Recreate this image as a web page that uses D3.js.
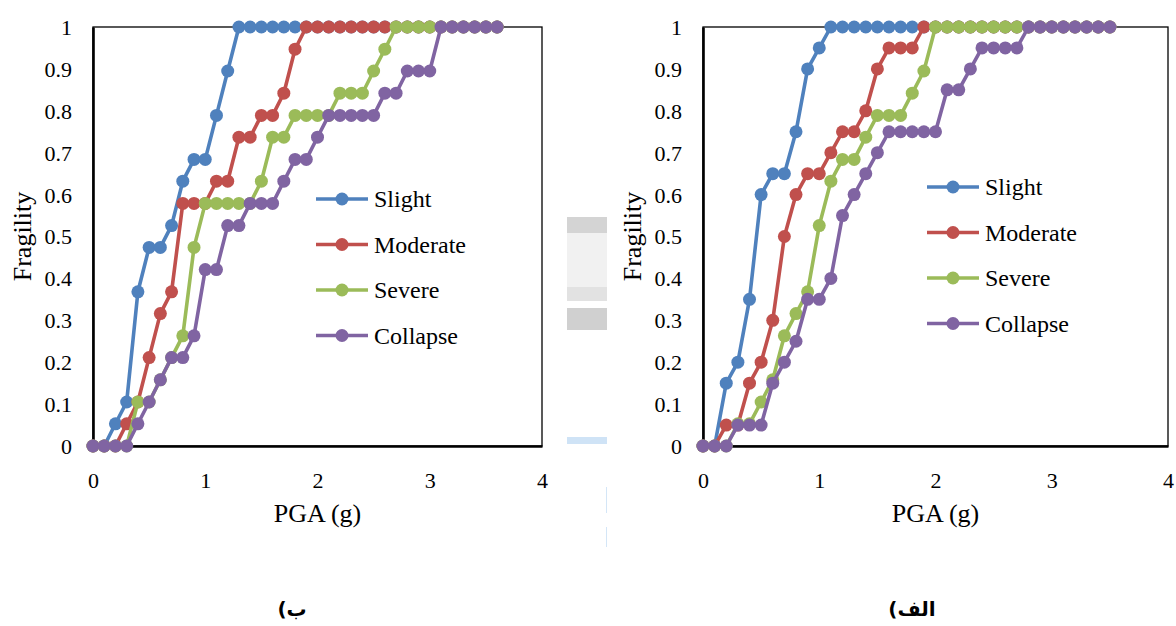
<!DOCTYPE html>
<html>
<head>
<meta charset="utf-8">
<script src="https://cdn.jsdelivr.net/npm/d3@7"></script>
<style>
  html, body { margin: 0; padding: 0; background: #fff; }
  svg { display: block; }
</style>
</head>
<body>
<svg id="chart" width="1176" height="626"></svg>
<script>
// ---------------- DATA ----------------
const seriesNames = ["Slight", "Moderate", "Severe", "Collapse"];
const xTicks = [0, 1, 2, 3, 4];
const yTicks = [0, 0.1, 0.2, 0.3, 0.4, 0.5, 0.6, 0.7, 0.8, 0.9, 1];
const yTickLabels = ["0", "0.1", "0.2", "0.3", "0.4", "0.5", "0.6", "0.7", "0.8", "0.9", "1"];

// Panel (ب) - left
const pgaB = [0, 0.1, 0.2, 0.3, 0.4, 0.5, 0.6, 0.7, 0.8, 0.9, 1.0, 1.1, 1.2, 1.3, 1.4, 1.5, 1.6, 1.7, 1.8, 1.9,
              2.0, 2.1, 2.2, 2.3, 2.4, 2.5, 2.6, 2.7, 2.8, 2.9, 3.0, 3.1, 3.2, 3.3, 3.4, 3.5, 3.6];
const slightB = [0, 0, 0.053, 0.105, 0.368, 0.474, 0.474, 0.526, 0.632, 0.684, 0.684, 0.789, 0.895, 1, 1, 1, 1, 1, 1, 1,
                 1, 1, 1, 1, 1, 1, 1, 1, 1, 1, 1, 1, 1, 1, 1, 1, 1];
const moderateB = [0, 0, 0, 0.053, 0.105, 0.211, 0.316, 0.368, 0.579, 0.579, 0.579, 0.632, 0.632, 0.737, 0.737, 0.789, 0.789, 0.842, 0.947, 1,
                   1, 1, 1, 1, 1, 1, 1, 1, 1, 1, 1, 1, 1, 1, 1, 1, 1];
const severeB = [0, 0, 0, 0, 0.105, 0.105, 0.158, 0.211, 0.263, 0.474, 0.579, 0.579, 0.579, 0.579, 0.579, 0.632, 0.737, 0.737, 0.789, 0.789,
                 0.789, 0.789, 0.842, 0.842, 0.842, 0.895, 0.947, 1, 1, 1, 1, 1, 1, 1, 1, 1, 1];
const collapseB = [0, 0, 0, 0, 0.053, 0.105, 0.158, 0.211, 0.211, 0.263, 0.421, 0.421, 0.526, 0.526, 0.579, 0.579, 0.579, 0.632, 0.684, 0.684,
                   0.737, 0.789, 0.789, 0.789, 0.789, 0.789, 0.842, 0.842, 0.895, 0.895, 0.895, 1, 1, 1, 1, 1, 1];

// Panel (الف) - right
const pgaA = [0, 0.1, 0.2, 0.3, 0.4, 0.5, 0.6, 0.7, 0.8, 0.9, 1.0, 1.1, 1.2, 1.3, 1.4, 1.5, 1.6, 1.7, 1.8, 1.9,
              2.0, 2.1, 2.2, 2.3, 2.4, 2.5, 2.6, 2.7, 2.8, 2.9, 3.0, 3.1, 3.2, 3.3, 3.4, 3.5];
const slightA = [0, 0, 0.15, 0.2, 0.35, 0.6, 0.65, 0.65, 0.75, 0.9, 0.95, 1, 1, 1, 1, 1, 1, 1, 1, 1,
                 1, 1, 1, 1, 1, 1, 1, 1, 1, 1, 1, 1, 1, 1, 1, 1];
const moderateA = [0, 0, 0.05, 0.05, 0.15, 0.2, 0.3, 0.5, 0.6, 0.65, 0.65, 0.7, 0.75, 0.75, 0.8, 0.9, 0.95, 0.95, 0.95, 1,
                   1, 1, 1, 1, 1, 1, 1, 1, 1, 1, 1, 1, 1, 1, 1, 1];
const severeA = [0, 0, 0, 0.053, 0.053, 0.105, 0.158, 0.263, 0.316, 0.368, 0.526, 0.632, 0.684, 0.684, 0.737, 0.789, 0.789, 0.789, 0.842, 0.895,
                 1, 1, 1, 1, 1, 1, 1, 1, 1, 1, 1, 1, 1, 1, 1, 1];
const collapseA = [0, 0, 0, 0.05, 0.05, 0.05, 0.15, 0.2, 0.25, 0.35, 0.35, 0.4, 0.55, 0.6, 0.65, 0.7, 0.75, 0.75, 0.75, 0.75,
                   0.75, 0.85, 0.85, 0.9, 0.95, 0.95, 0.95, 0.95, 1, 1, 1, 1, 1, 1, 1, 1];

const xTitle = "PGA (g)";
const yTitle = "Fragility";
const panelLabels = ["ب)", "الف)"];

// ---------------- STYLE ----------------
const colors = ["#4F81BD", "#C0504D", "#9BBB59", "#8064A2"];
const serif = "'Liberation Serif', 'Times New Roman', 'DejaVu Serif', serif";

const svg = d3.select("#chart");

function drawPanel(opt) {
  const x = d3.scaleLinear().domain([0, 4]).range([opt.x0, opt.x1]);
  const y = d3.scaleLinear().domain([0, 1]).range([446, 27]);
  const g = svg.append("g");

  // frame: top/right thin
  g.append("rect")
    .attr("x", x(0)).attr("y", y(1))
    .attr("width", x(4) - x(0)).attr("height", y(0) - y(1))
    .attr("fill", "none").attr("stroke", "#000").attr("stroke-width", 1.3);

  // axes (thick lines, no ticks)
  const xAxis = d3.axisBottom(x).tickValues(xTicks).tickSize(0).tickPadding(0).tickFormat(d3.format("d"));
  const xg = g.append("g").attr("transform", `translate(0,${y(0)})`).call(xAxis);
  xg.select(".domain").attr("stroke", "#000").attr("stroke-width", 2.6);
  xg.selectAll(".tick text")
    .attr("font-family", serif).attr("font-size", 22).attr("fill", "#000")
    .attr("dy", null).attr("y", 42);

  const yAxis = d3.axisLeft(y).tickValues(yTicks).tickSize(0).tickPadding(0)
    .tickFormat((d, i) => yTickLabels[i]);
  const yg = g.append("g").attr("transform", `translate(${x(0)},0)`).call(yAxis);
  yg.select(".domain").attr("stroke", "#000").attr("stroke-width", 2.6);
  yg.selectAll(".tick text")
    .attr("font-family", serif).attr("font-size", 22).attr("fill", "#000")
    .attr("x", -21).attr("dy", "0.34em");

  // titles
  g.append("text")
    .attr("x", (x(0) + x(4)) / 2).attr("y", 522)
    .attr("text-anchor", "middle").attr("font-family", serif).attr("font-size", 26)
    .text(xTitle);
  g.append("text")
    .attr("transform", `translate(${opt.yTitleX},${(y(0) + y(1)) / 2}) rotate(-90)`)
    .attr("text-anchor", "middle").attr("font-family", serif).attr("font-size", 26)
    .text(yTitle);

  // series
  const line = d3.line().x((d, i) => x(opt.pga[i])).y(d => y(d));
  opt.series.forEach((vals, si) => {
    g.append("path").datum(vals)
      .attr("d", line).attr("fill", "none")
      .attr("stroke", colors[si]).attr("stroke-width", 3.6)
      .attr("stroke-linejoin", "round");
    g.selectAll(null).data(vals).enter().append("circle")
      .attr("cx", (d, i) => x(opt.pga[i])).attr("cy", d => y(d))
      .attr("r", 6.5).attr("fill", colors[si]);
  });

  // legend
  const lg = g.append("g");
  seriesNames.forEach((name, i) => {
    const ly = opt.legY + i * 45.5;
    lg.append("line")
      .attr("x1", opt.legX).attr("x2", opt.legX + 52)
      .attr("y1", ly).attr("y2", ly)
      .attr("stroke", colors[i]).attr("stroke-width", 3.6);
    lg.append("circle").attr("cx", opt.legX + 26).attr("cy", ly).attr("r", 6.5).attr("fill", colors[i]);
    lg.append("text")
      .attr("x", opt.legX + 58).attr("y", ly).attr("dy", "0.34em")
      .attr("font-family", serif).attr("font-size", 24).text(name);
  });

  // panel label (RTL)
  g.append("text")
    .attr("x", opt.labelX).attr("y", 616)
    .attr("text-anchor", "middle")
    .attr("direction", "rtl")
    .style("direction", "rtl").style("unicode-bidi", "embed")
    .attr("font-family", "'DejaVu Sans', sans-serif").attr("font-weight", "bold").attr("font-size", 20)
    .text(opt.label);
}

drawPanel({
  x0: 93, x1: 542, pga: pgaB,
  series: [slightB, moderateB, severeB, collapseB],
  legX: 316, legY: 199, yTitleX: 31, labelX: 292, label: panelLabels[0]
});
drawPanel({
  x0: 703, x1: 1168, pga: pgaA,
  series: [slightA, moderateA, severeA, collapseA],
  legX: 927, legY: 187, yTitleX: 641, labelX: 912, label: panelLabels[1]
});

// faint scan remnants between the panels
const junk = svg.append("g");
junk.append("rect").attr("x", 567).attr("y", 217).attr("width", 40).attr("height", 16).attr("fill", "#d4d4d4");
junk.append("rect").attr("x", 567).attr("y", 233).attr("width", 40).attr("height", 54).attr("fill", "#f1f1f1");
junk.append("rect").attr("x", 567).attr("y", 287).attr("width", 40).attr("height", 14).attr("fill", "#e2e2e2");
junk.append("rect").attr("x", 567).attr("y", 308).attr("width", 40).attr("height", 22).attr("fill", "#d0d0d0");
junk.append("rect").attr("x", 567).attr("y", 437).attr("width", 40).attr("height", 7).attr("fill", "#cfe3f6");
junk.append("line").attr("x1", 606.5).attr("x2", 606.5).attr("y1", 487).attr("y2", 513).attr("stroke", "#d4e6f7").attr("stroke-width", 1);
junk.append("line").attr("x1", 606.5).attr("x2", 606.5).attr("y1", 527).attr("y2", 547).attr("stroke", "#d4e6f7").attr("stroke-width", 1);
</script>
</body>
</html>
